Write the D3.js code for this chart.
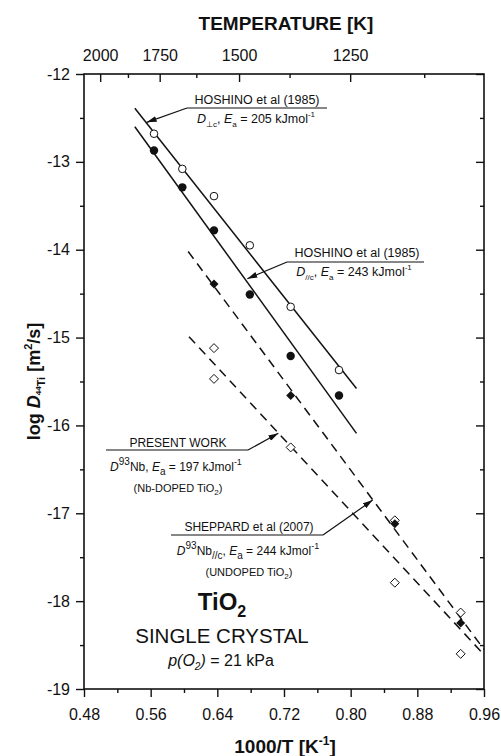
<!DOCTYPE html>
<html>
<head>
<meta charset="utf-8">
<script src="https://cdn.jsdelivr.net/npm/d3@7"></script>
<style>
  body { margin: 0; background: #fff; }
  text { font-family: "Liberation Sans", Arial, sans-serif; fill: #111; }
</style>
</head>
<body>
<div id="chart"></div>
<script>
// DATA
// Hoshino et al (1985), D perpendicular to c  (open circles)
const perpX = [0.564, 0.598, 0.636, 0.679, 0.728, 0.786];
const perpY = [-12.68, -13.08, -13.39, -13.95, -14.65, -15.37];
// Hoshino et al (1985), D parallel to c (filled circles)
const parX = [0.564, 0.598, 0.636, 0.679, 0.728, 0.786];
const parY = [-12.87, -13.29, -13.78, -14.51, -15.21, -15.66];
// Sheppard et al (2007), undoped (filled diamonds)
const shepX = [0.636, 0.728, 0.853, 0.932];
const shepY = [-14.39, -15.66, -17.12, -18.25];
// present work, Nb-doped (open diamonds)
const presX = [0.636, 0.636, 0.728, 0.853, 0.853, 0.932, 0.932];
const presY = [-15.12, -15.47, -16.25, -17.08, -17.79, -18.13, -18.60];

// fitted lines, end points [x1, x2], [y1, y2]
const perpLineX = [0.541, 0.807], perpLineY = [-12.39, -15.58];
const parLineX = [0.541, 0.807], parLineY = [-12.60, -16.09];
const shepLineX = [0.605, 0.96], shepLineY = [-14.02, -18.55];
const presLineX = [0.606, 0.96], presLineY = [-14.99, -18.61];

// axes
const xTicks = [0.48, 0.56, 0.64, 0.72, 0.80, 0.88, 0.96];
const xMinor = [0.52, 0.60, 0.68, 0.76, 0.84, 0.92];
const yTicks = [-12, -13, -14, -15, -16, -17, -18, -19];
const yMinor = [-12.5, -13.5, -14.5, -15.5, -16.5, -17.5, -18.5];
const tempTicks = [2000, 1750, 1500, 1250];
const tempMinor = [1875, 1625, 1375, 1125];

//SVG
const W = 501, H = 756;
const pLeft = 84, pTop = 74, pRight = 484, pBottom = 689;

const svg = d3.select("#chart").append("svg")
    .attr("width", W)
    .attr("height", H);

svg.append("defs").append("marker")
    .attr("id", "head")
    .attr("viewBox", "0 0 10 6")
    .attr("refX", 10).attr("refY", 3)
    .attr("markerWidth", 10).attr("markerHeight", 6)
    .attr("markerUnits", "userSpaceOnUse")
    .attr("orient", "auto")
  .append("path")
    .attr("d", "M0,0 L10,3 L0,6 Z")
    .attr("fill", "#111");

//SCALES
const x = d3.scaleLinear().domain([0.48, 0.96]).range([pLeft, pRight]);
const y = d3.scaleLinear().domain([-19, -12]).range([pBottom, pTop]);

//AXES
const axisStyle = g => {
  g.select(".domain").remove();
  g.selectAll(".tick line").attr("stroke", "#111").attr("stroke-width", 1.4);
  g.selectAll(".tick text").attr("font-size", 16).attr("fill", "#111")
    .style("font-family", "'Liberation Sans', Arial, sans-serif");
};

// bottom
svg.append("g").attr("transform", `translate(0,${pBottom})`)
  .call(d3.axisBottom(x).tickValues(xTicks).tickSize(8).tickPadding(12).tickFormat(d => d.toFixed(2)))
  .call(axisStyle);
svg.append("g").attr("transform", `translate(0,${pBottom})`)
  .call(d3.axisBottom(x).tickValues(xMinor).tickSize(4).tickFormat(""))
  .call(axisStyle);
// left (plain hyphen as in the original)
svg.append("g").attr("transform", `translate(${pLeft},0)`)
  .call(d3.axisLeft(y).tickValues(yTicks).tickSize(8).tickPadding(6).tickFormat(d => String(d)))
  .call(axisStyle);
svg.append("g").attr("transform", `translate(${pLeft},0)`)
  .call(d3.axisLeft(y).tickValues(yMinor).tickSize(4).tickFormat(""))
  .call(axisStyle);
// right (inward)
svg.append("g").attr("transform", `translate(${pRight},0)`)
  .call(d3.axisRight(y).tickValues(yTicks).tickSize(-8).tickFormat(""))
  .call(axisStyle);
svg.append("g").attr("transform", `translate(${pRight},0)`)
  .call(d3.axisRight(y).tickValues(yMinor).tickSize(-4).tickFormat(""))
  .call(axisStyle);
// top: temperature, ticks inward
const tx = T => x(1000 / T);
const topG = svg.append("g");
topG.selectAll("line.tmaj").data(tempTicks).enter().append("line")
    .attr("x1", tx).attr("x2", tx).attr("y1", pTop).attr("y2", pTop + 8)
    .attr("stroke", "#111").attr("stroke-width", 1.4);
topG.selectAll("line.tmin").data(tempMinor).enter().append("line")
    .attr("x1", tx).attr("x2", tx).attr("y1", pTop).attr("y2", pTop + 4)
    .attr("stroke", "#111").attr("stroke-width", 1.4);
topG.selectAll("text").data(tempTicks).enter().append("text")
    .attr("x", tx).attr("y", pTop - 13)
    .attr("text-anchor", "middle").attr("font-size", 16)
    .text(d => d);

// frame
svg.append("rect")
    .attr("x", pLeft).attr("y", pTop)
    .attr("width", pRight - pLeft).attr("height", pBottom - pTop)
    .attr("fill", "none").attr("stroke", "#111").attr("stroke-width", 1.6);

// rich text helper: parts {t, off, fs, i, b}
function rich(g, px, py, anchor, size, parts, weight) {
  const t = g.append("text").attr("x", px).attr("y", py)
      .attr("text-anchor", anchor).attr("font-size", size);
  if (weight) t.attr("font-weight", weight);
  let cur = 0;
  parts.forEach(p => {
    const off = p.off || 0;
    const ts = t.append("tspan").attr("dy", off - cur).text(p.t);
    cur = off;
    if (p.fs) ts.attr("font-size", p.fs);
    if (p.i) ts.attr("font-style", "italic");
    if (p.b) ts.attr("font-weight", "bold");
  });
  return t;
}

// axis titles
svg.append("text").attr("x", 286).attr("y", 30)
    .attr("text-anchor", "middle").attr("font-size", 19).attr("font-weight", "bold")
    .text("TEMPERATURE [K]");
rich(svg, 285, 753, "middle", 19, [
  {t: "1000/T [K"}, {t: "-1", off: -8, fs: 12}, {t: "]", off: 0}
], "bold");
const yl = rich(svg, 0, 0, "middle", 18, [
  {t: "log "}, {t: "D", i: true}, {t: "44", off: 1, fs: 8}, {t: "Ti", off: 5, fs: 11},
  {t: " [m", off: 0}, {t: "2", off: -8, fs: 11}, {t: "/s]", off: 0}
], "bold");
yl.attr("transform", `translate(40,${(pTop + pBottom) / 2}) rotate(-90)`);

//LINES
const line = d3.line().x(d => x(d[0])).y(d => y(d[1]));
const lines = [
  {xs: perpLineX, ys: perpLineY, dash: null},
  {xs: parLineX, ys: parLineY, dash: null},
  {xs: shepLineX, ys: shepLineY, dash: "9,6"},
  {xs: presLineX, ys: presLineY, dash: "9,6"}
];
svg.append("g").selectAll("path").data(lines).enter().append("path")
    .attr("d", d => line(d3.zip(d.xs, d.ys)))
    .attr("fill", "none").attr("stroke", "#111").attr("stroke-width", 1.5)
    .attr("stroke-dasharray", d => d.dash);

//DOTS
const diamond = "M0,-4.5 L4.5,0 L0,4.5 L-4.5,0 Z";
const dots = svg.append("g");
dots.selectAll("circle.open").data(d3.zip(perpX, perpY)).enter().append("circle")
    .attr("cx", d => x(d[0])).attr("cy", d => y(d[1])).attr("r", 3.8)
    .attr("fill", "#fff").attr("stroke", "#111").attr("stroke-width", 1);
dots.selectAll("circle.fill").data(d3.zip(parX, parY)).enter().append("circle")
    .attr("cx", d => x(d[0])).attr("cy", d => y(d[1])).attr("r", 4.2)
    .attr("fill", "#111");
dots.selectAll("path.od").data(d3.zip(presX, presY)).enter().append("path")
    .attr("d", diamond)
    .attr("transform", d => `translate(${x(d[0])},${y(d[1])})`)
    .attr("fill", "#fff").attr("stroke", "#111").attr("stroke-width", 1);
dots.selectAll("path.fd").data(d3.zip(shepX, shepY)).enter().append("path")
    .attr("d", diamond)
    .attr("transform", d => `translate(${x(d[0])},${y(d[1])})`)
    .attr("fill", "#111");

//ANNOTATIONS
const ann = svg.append("g");
function pointer(x1, x2, yy, tip) {
  ann.append("line").attr("x1", x1).attr("x2", x2).attr("y1", yy).attr("y2", yy)
      .attr("stroke", "#111").attr("stroke-width", 1.2);
  const sx = tip.from === "left" ? x1 : x2;
  ann.append("line").attr("x1", sx).attr("y1", yy)
      .attr("x2", x(tip.x)).attr("y2", y(tip.y))
      .attr("stroke", "#111").attr("stroke-width", 1.2)
      .attr("marker-end", "url(#head)");
}
// Hoshino perp
rich(ann, 257, 104, "middle", 12.5, [{t: "HOSHINO et al (1985)"}]);
pointer(187, 327, 108, {from: "left", x: 0.5552, y: -12.55});
rich(ann, 256, 123, "middle", 12.5, [
  {t: "D", i: true}, {t: "\u22A5c", off: 4, fs: 8}, {t: ", ", off: 0},
  {t: "E", i: true}, {t: "a", off: 4, fs: 8}, {t: " = 205 kJmol", off: 0},
  {t: "-1", off: -6, fs: 8}
]);
// Hoshino par
rich(ann, 357, 257, "middle", 12.5, [{t: "HOSHINO et al (1985)"}]);
pointer(287, 424, 262, {from: "left", x: 0.676, y: -14.33});
rich(ann, 354, 276, "middle", 12.5, [
  {t: "D", i: true}, {t: "//c", off: 4, fs: 8}, {t: ", ", off: 0},
  {t: "E", i: true}, {t: "a", off: 4, fs: 8}, {t: " = 243 kJmol", off: 0},
  {t: "-1", off: -6, fs: 8}
]);
// present work
rich(ann, 178, 447, "middle", 12, [{t: "PRESENT WORK"}]);
pointer(106, 248, 450, {from: "right", x: 0.7132, y: -16.09});
rich(ann, 176, 471, "middle", 12, [
  {t: "D", i: true}, {t: "93", off: -6, fs: 10}, {t: "Nb, ", off: 0},
  {t: "E", i: true}, {t: "a", off: 4, fs: 10}, {t: " = 197 kJmol", off: 0},
  {t: "-1", off: -6, fs: 9}
]);
rich(ann, 178, 492, "middle", 11, [
  {t: "(Nb-DOPED TiO"}, {t: "2", off: 3, fs: 8}, {t: ")", off: 0}
]);
// Sheppard
rich(ann, 249, 531, "middle", 12, [{t: "SHEPPARD et al (2007)"}]);
pointer(171, 323, 535, {from: "right", x: 0.8264, y: -16.85});
rich(ann, 248, 555, "middle", 12, [
  {t: "D", i: true}, {t: "93", off: -6, fs: 10}, {t: "Nb", off: 0},
  {t: "//c", off: 4, fs: 10}, {t: ", ", off: 0},
  {t: "E", i: true}, {t: "a", off: 4, fs: 10}, {t: " = 244 kJmol", off: 0},
  {t: "-1", off: -6, fs: 9}
]);
rich(ann, 249, 576, "middle", 11, [
  {t: "(UNDOPED TiO"}, {t: "2", off: 3, fs: 8}, {t: ")", off: 0}
]);

// sample description
rich(svg, 222, 610, "middle", 24, [
  {t: "TiO"}, {t: "2", off: 7, fs: 16}
], "bold");
svg.append("text").attr("x", 222).attr("y", 643)
    .attr("text-anchor", "middle").attr("font-size", 20.5)
    .text("SINGLE CRYSTAL");
rich(svg, 221, 666, "middle", 16, [
  {t: "p(O", i: true}, {t: "2", off: 4, fs: 10, i: true}, {t: ")", off: 0, i: true},
  {t: " = 21 kPa"}
]);
</script>
</body>
</html>
